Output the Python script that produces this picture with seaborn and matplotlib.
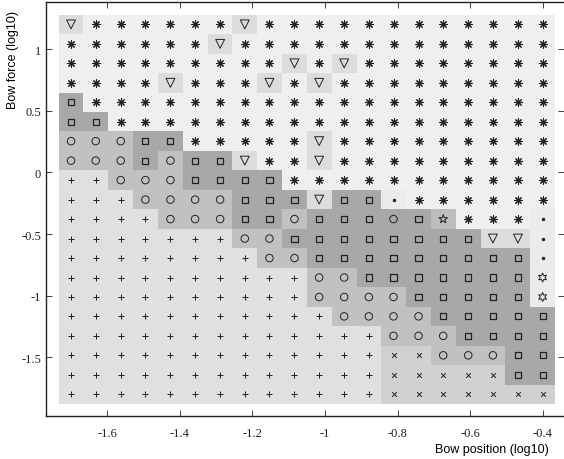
import numpy as np
import pandas as pd
import matplotlib
matplotlib.use('Agg')
import matplotlib.pyplot as plt
import seaborn as sns

# log10 bow position of each grid column (left to right)
bow_position = [-1.700, -1.632, -1.563, -1.495, -1.426, -1.358, -1.289, -1.221, -1.153, -1.084,
                -1.016, -0.947, -0.879, -0.811, -0.742, -0.674, -0.605, -0.537, -0.468, -0.400]
# log10 bow force of each grid row (top to bottom)
bow_force = [1.200, 1.042, 0.884, 0.726, 0.568, 0.411, 0.253, 0.095, -0.063, -0.221,
             -0.379, -0.537, -0.695, -0.853, -1.011, -1.168, -1.326, -1.484, -1.642, -1.800]

# regime found in each cell, top row first
# * asterisk, v triangle, s square, o circle, O circle on square shade,
# + plus, x cross, . dot, p pentagram, h hexagram
regime_rows = [
    "v******v************",
    "******v*************",
    "*********v*v********",
    "****v***v*v*********",
    "s*******************",
    "ss******************",
    "oooss*****v*********",
    "ooosossv**v*********",
    "++ooossss***********",
    "+++oooosssvss.******",
    "++++ooossosssOsp***.",
    "+++++++oossssssssvv.",
    "++++++++oosssssssss.",
    "++++++++++oosssssssh",
    "++++++++++oooosssssh",
    "+++++++++++oooosssss",
    "+++++++++++++ooossss",
    "+++++++++++++xxoooss",
    "+++++++++++++xxxxxss",
    "+++++++++++++xxxxxxx",
]

x_ticks = [-1.6, -1.4, -1.2, -1, -0.8, -0.6, -0.4]
x_tick_labels = ['-1.6', '-1.4', '-1.2', '-1', '-0.8', '-0.6', '-0.4']
y_ticks = [1, 0.5, 0, -0.5, -1, -1.5]
y_tick_labels = ['1', '0.5', '0', '-0.5', '-1', '-1.5']

# grey level of the cell behind each regime
shade = {'*': 0.937, '.': 0.918, 'h': 0.918, 'v': 0.863, '+': 0.878, 'x': 0.82,
         'o': 0.757, 'p': 0.74, 's': 0.66, 'O': 0.66}
# marker, size (pt), open, line width
marker_style = {
    '*': ((8, 2, 0), 5.4, False, 0.8),
    'v': ('v', 6.4, True, 0.7),
    's': ('s', 4.4, True, 0.9),
    'o': ('o', 5.4, True, 0.7),
    'O': ('o', 5.4, True, 0.7),
    '+': ('+', 5.0, False, 0.7),
    'x': ('x', 3.4, False, 0.7),
    '.': ('o', 2.0, False, 0.5),
    'p': ('*', 6.5, True, 0.7),
    'h': ((6, 1, 0), 6.5, True, 0.7),
}
ink = '#222222'

records = []
for i, row in enumerate(regime_rows):
    for j, code in enumerate(row):
        records.append({'position': bow_position[j], 'force': bow_force[i], 'regime': code})
df = pd.DataFrame(records)

plt.rcParams['font.family'] = ['Liberation Serif', 'DejaVu Serif']
fig = plt.figure(figsize=(5.64, 4.60), dpi=100)
ax = fig.add_axes([46 / 564, (460 - 416.5) / 460, (564 - 46) / 564, (416.5 - 2.7) / 460])

# shaded cells
xc = np.array(bow_position)
yc = np.array(bow_force)
x_edges = np.concatenate([[xc[0] - (xc[1] - xc[0]) / 2], (xc[:-1] + xc[1:]) / 2,
                          [xc[-1] + (xc[-1] - xc[-2]) / 2]])
y_edges = np.concatenate([[yc[0] - (yc[1] - yc[0]) / 2], (yc[:-1] + yc[1:]) / 2,
                          [yc[-1] + (yc[-1] - yc[-2]) / 2]])
grey = np.array([[shade[c] for c in row] for row in regime_rows])
ax.pcolormesh(x_edges, y_edges, grey, cmap='gray', vmin=0, vmax=1, shading='flat')

# regime markers
for code, grp in df.groupby('regime'):
    m, size, hollow, lw = marker_style[code]
    sns.scatterplot(data=grp, x='position', y='force', marker=m, s=size ** 2, ax=ax,
                    color=ink, edgecolor=ink, facecolor='none' if hollow else ink,
                    linewidth=lw, legend=False, zorder=3)

ax.set_xlim(-1.769, -0.341)
ax.set_ylim(-1.972, 1.384)
ax.set_xticks(x_ticks, x_tick_labels)
ax.set_yticks(y_ticks, y_tick_labels)
ax.tick_params(direction='in', top=True, right=True, length=4, width=0.6,
               labelsize=9, colors='#222222')
ax.tick_params(axis='x', pad=8)
ax.tick_params(axis='y', pad=3.5)
ax.spines['right'].set_visible(False)
for side in ['left', 'top', 'bottom']:
    ax.spines[side].set_linewidth(1.0)
    ax.spines[side].set_color('#222222')

ax.set_xlabel('Bow position (log10)', fontsize=9, family='Liberation Sans',
              ha='right', va='center')
ax.xaxis.set_label_coords((549 - 46) / 518, (416.5 - 450) / 414)
ax.set_ylabel('Bow force (log10)', fontsize=9, family='Liberation Sans',
              ha='center', va='center')
ax.yaxis.set_label_coords((13 - 46) / 518, (416.5 - 60) / 414)

fig.savefig('out.png', dpi=100)
